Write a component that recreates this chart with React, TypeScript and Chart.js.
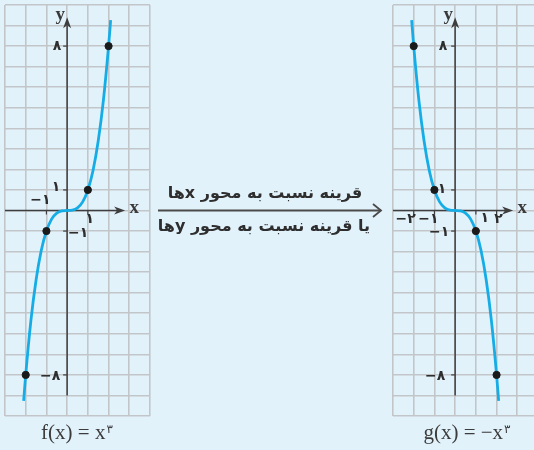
import React, { useEffect, useRef } from 'react';
import { Chart, registerables } from 'chart.js';

Chart.register(...registerables);

// ---- data ----
const curveX = [-2.1, -2, -1.75, -1.5, -1.25, -1, -0.75, -0.5, -0.25, 0, 0.25, 0.5, 0.75, 1, 1.25, 1.5, 1.75, 2, 2.1];
const fCurveY = [-9.26, -8, -5.36, -3.38, -1.95, -1, -0.42, -0.13, -0.02, 0, 0.02, 0.13, 0.42, 1, 1.95, 3.38, 5.36, 8, 9.26];
const gCurveY = [9.26, 8, 5.36, 3.38, 1.95, 1, 0.42, 0.13, 0.02, 0, -0.02, -0.13, -0.42, -1, -1.95, -3.38, -5.36, -8, -9.26];
const markX = [-2, -1, 1, 2];
const fMarkY = [-8, -1, 1, 8];
const gMarkY = [8, 1, -1, -8];

const xMin = -3;
const xMax = 4;
const yMin = -10;
const yMax = 10;
const yAxisFrom = -9;
const yAxisTo = 9.4;
const xAxisFrom = -3;
const xAxisTo = 2.8;

const fYTickValues = [8, 1, -1, -8];
const fYTickTexts = ['۸', '۱', '−۱', '−۸'];
const fXTickValues = [-1, 1];
const fXTickTexts = ['−۱', '۱'];

const gYTickValues = [8, 1, -1, -8];
const gYTickTexts = ['۸', '۱', '−۱', '−۸'];
const gXTickValues = [-2, -1, 1, 2];
const gXTickTexts = ['−۲', '−۱', '۱', '۲'];

const arrowTopText = 'قرینه نسبت به محور xها';
const arrowBottomText = 'یا قرینه نسبت به محور yها';

// label offsets (pixels) relative to tick position
const fYOffsets = [[-10, 0], [-11, -3], [11, 2], [-17, 1]];
const fXOffsets = [[-6, -10], [2, 9]];
const gYOffsets = [[-12, 0], [-13, -1], [-16, 1], [-20, 1]];
const gXOffsets = [[-8, 9], [-6, 9], [9, 8], [2, 9]];

const BG = '#e2f2fb';
const GRID = '#c2c6c9';
const AXIS = '#3e3e3e';
const CURVE = '#16ade6';
const TEXT = '#2e2e2e';

type PanelCfg = {
  curveY: number[];
  markY: number[];
  yTickValues: number[];
  yTickTexts: string[];
  xTickValues: number[];
  xTickTexts: string[];
  yOffsets: number[][];
  xOffsets: number[][];
};

function makeAxesPlugin(cfg: PanelCfg) {
  return {
    id: 'axesArrows',
    beforeDatasetsDraw(chart: any) {
      const ctx = chart.ctx;
      const xs = chart.scales.x;
      const ys = chart.scales.y;
      const x0 = xs.getPixelForValue(0);
      const y0 = ys.getPixelForValue(0);
      ctx.save();
      ctx.strokeStyle = AXIS;
      ctx.fillStyle = AXIS;
      ctx.lineWidth = 1.5;
      // y axis
      const yTop = ys.getPixelForValue(yAxisTo);
      const yBot = ys.getPixelForValue(yAxisFrom);
      ctx.beginPath();
      ctx.moveTo(x0, yBot);
      ctx.lineTo(x0, yTop + 8);
      ctx.stroke();
      ctx.beginPath();
      ctx.moveTo(x0, yTop);
      ctx.lineTo(x0 - 4, yTop + 11);
      ctx.lineTo(x0, yTop + 8);
      ctx.lineTo(x0 + 4, yTop + 11);
      ctx.closePath();
      ctx.fill();
      // x axis
      const xL = xs.getPixelForValue(xAxisFrom);
      const xR = xs.getPixelForValue(xAxisTo);
      ctx.beginPath();
      ctx.moveTo(xL, y0);
      ctx.lineTo(xR - 8, y0);
      ctx.stroke();
      ctx.beginPath();
      ctx.moveTo(xR, y0);
      ctx.lineTo(xR - 11, y0 - 4);
      ctx.lineTo(xR - 8, y0);
      ctx.lineTo(xR - 11, y0 + 4);
      ctx.closePath();
      ctx.fill();
      // tick marks
      ctx.lineWidth = 1.2;
      cfg.yTickValues.forEach((v) => {
        const py = ys.getPixelForValue(v);
        ctx.beginPath();
        ctx.moveTo(x0 - 4, py);
        ctx.lineTo(x0, py);
        ctx.stroke();
      });
      cfg.xTickValues.forEach((v) => {
        const px = xs.getPixelForValue(v);
        ctx.beginPath();
        ctx.moveTo(px, y0);
        ctx.lineTo(px, y0 + 4);
        ctx.stroke();
      });
      ctx.restore();
    },
    afterDraw(chart: any) {
      const ctx = chart.ctx;
      const xs = chart.scales.x;
      const ys = chart.scales.y;
      const x0 = xs.getPixelForValue(0);
      const y0 = ys.getPixelForValue(0);
      ctx.save();
      ctx.fillStyle = TEXT;
      ctx.textAlign = 'center';
      ctx.textBaseline = 'middle';
      ctx.font = 'bold 14px "DejaVu Sans"';
      cfg.yTickValues.forEach((v, i) => {
        const [dx, dy] = cfg.yOffsets[i];
        ctx.fillText(cfg.yTickTexts[i], x0 + dx, ys.getPixelForValue(v) + dy);
      });
      cfg.xTickValues.forEach((v, i) => {
        const [dx, dy] = cfg.xOffsets[i];
        ctx.fillText(cfg.xTickTexts[i], xs.getPixelForValue(v) + dx, y0 + dy);
      });
      ctx.font = 'bold 19px "Liberation Serif"';
      ctx.fillStyle = '#3a3a3a';
      ctx.fillText('y', x0 - 7, ys.getPixelForValue(yAxisTo) - 2);
      ctx.fillText('x', xs.getPixelForValue(xAxisTo) + 9, y0 - 2);
      ctx.restore();
    },
  };
}

function Panel({ cfg, left }: { cfg: PanelCfg; left: number }) {
  const ref = useRef<HTMLCanvasElement | null>(null);
  useEffect(() => {
    if (!ref.current) return;
    const chart = new Chart(ref.current, {
      type: 'scatter',
      data: {
        datasets: [
          {
            data: curveX.map((x, i) => ({ x, y: cfg.curveY[i] })),
            showLine: true,
            borderColor: CURVE,
            borderWidth: 2.8,
            pointRadius: 0,
            cubicInterpolationMode: 'monotone',
            order: 2,
          },
          {
            data: markX.map((x, i) => ({ x, y: cfg.markY[i] })),
            showLine: false,
            pointRadius: 3.6,
            backgroundColor: '#1a1a1a',
            borderColor: '#1a1a1a',
            pointBackgroundColor: '#1a1a1a',
            pointBorderColor: '#1a1a1a',
            pointBorderWidth: 1,
            order: 1,
          },
        ],
      },
      options: {
        animation: false,
        responsive: false,
        devicePixelRatio: 1,
        layout: { padding: 5 },
        plugins: { legend: { display: false }, tooltip: { enabled: false } },
        scales: {
          x: {
            type: 'linear',
            min: xMin,
            max: xMax,
            ticks: { display: false, stepSize: 1 },
            grid: { color: GRID, lineWidth: 1.6, drawTicks: false },
            border: { display: false },
          },
          y: {
            type: 'linear',
            min: yMin,
            max: yMax,
            ticks: { display: false, stepSize: 1 },
            grid: { color: GRID, lineWidth: 1.6, drawTicks: false },
            border: { display: false },
          },
        },
      } as any,
      plugins: [makeAxesPlugin(cfg)],
    });
    return () => chart.destroy();
  }, []);
  return (
    <canvas
      ref={ref}
      width={155}
      height={421}
      style={{ position: 'absolute', left, top: 0, width: 155, height: 421 }}
    />
  );
}

const fCfg: PanelCfg = {
  curveY: fCurveY,
  markY: fMarkY,
  yTickValues: fYTickValues,
  yTickTexts: fYTickTexts,
  xTickValues: fXTickValues,
  xTickTexts: fXTickTexts,
  yOffsets: fYOffsets,
  xOffsets: fXOffsets,
};
const gCfg: PanelCfg = {
  curveY: gCurveY,
  markY: gMarkY,
  yTickValues: gYTickValues,
  yTickTexts: gYTickTexts,
  xTickValues: gXTickValues,
  xTickTexts: gXTickTexts,
  yOffsets: gYOffsets,
  xOffsets: gXOffsets,
};

export default function App() {
  const formula: React.CSSProperties = {
    position: 'absolute',
    top: 419,
    width: 160,
    textAlign: 'center',
    fontFamily: '"Liberation Serif", "DejaVu Sans", serif',
    fontSize: 21,
    color: '#3c3c3c',
    lineHeight: '26px',
  };
  const sup: React.CSSProperties = {
    fontFamily: '"DejaVu Sans"',
    fontSize: 12,
    verticalAlign: 'top',
    position: 'relative',
    top: -3,
    marginLeft: 1,
  };
  const arrowText: React.CSSProperties = {
    position: 'absolute',
    left: 160,
    width: 210,
    textAlign: 'center',
    direction: 'rtl',
    fontFamily: '"DejaVu Sans", sans-serif',
    fontSize: 16,
    fontWeight: 'bold',
    color: TEXT,
    lineHeight: '22px',
    whiteSpace: 'nowrap',
  };
  return (
    <div
      style={{
        position: 'fixed',
        left: 0,
        top: 0,
        width: 534,
        height: 450,
        background: BG,
        overflow: 'hidden',
      }}
    >
      <Panel cfg={fCfg} left={0} />
      <Panel cfg={gCfg} left={388} />
      <svg
        width={240}
        height={40}
        style={{ position: 'absolute', left: 150, top: 190 }}
      >
        <line x1={8} y1={20.5} x2={231} y2={20.5} stroke="#4a4a4a" strokeWidth={1.8} />
        <polyline points="223,14 231,20.5 223,27" fill="none" stroke="#4a4a4a" strokeWidth={1.8} />
      </svg>
      <div style={{ ...arrowText, top: 182 }}>{arrowTopText}</div>
      <div style={{ ...arrowText, top: 215 }}>{arrowBottomText}</div>
      <div style={{ ...formula, left: -3 }}>
        f(x) = x<span style={sup}>۳</span>
      </div>
      <div style={{ ...formula, left: 387 }}>
        g(x) = −x<span style={sup}>۳</span>
      </div>
    </div>
  );
}
